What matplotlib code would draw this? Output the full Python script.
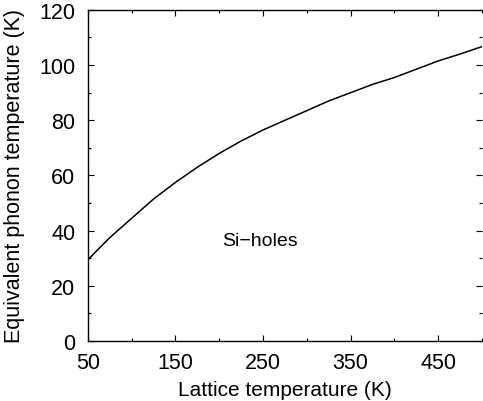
import matplotlib.pyplot as plt
from matplotlib.ticker import MultipleLocator

plt.rcParams["font.family"] = ["Liberation Sans", "DejaVu Sans"]

lattice_T = [50, 75, 100, 125, 150, 175, 200, 225, 250, 275, 300,
             325, 350, 375, 400, 425, 450, 475, 500]
phonon_T = [29.5, 37.5, 44.5, 51.5, 57.5, 63.0, 68.0, 72.5, 76.5, 80.0,
            83.5, 87.0, 90.0, 93.0, 95.5, 98.5, 101.5, 104.0, 106.7]

fig = plt.figure(figsize=(4.83, 4.02), dpi=100)
ax = fig.add_axes([0.182, 0.149, 0.816, 0.824])

ax.plot(lattice_T, phonon_T, color="black", lw=1.1)
ax.text(203, 36.5, "Si\u2212holes", fontsize=14, va="center")

ax.set_xlim(50, 500)
ax.set_ylim(0, 120)
ax.set_xticks([50, 150, 250, 350, 450])
ax.xaxis.set_minor_locator(MultipleLocator(50))
ax.yaxis.set_major_locator(MultipleLocator(20))
ax.yaxis.set_minor_locator(MultipleLocator(10))
ax.tick_params(which="both", direction="in", top=True, right=True,
               labelsize=15.5, width=0.8)
ax.tick_params(which="major", length=4)
ax.tick_params(axis="x", which="major", pad=8)
ax.tick_params(axis="y", which="major", pad=9)
ax.tick_params(which="minor", length=2.5)
ax.spines["right"].set_visible(False)
for s in ["left", "bottom", "top"]:
    ax.spines[s].set_linewidth(1.0)

ax.set_xlabel("Lattice temperature (K)", fontsize=15, labelpad=5)
ax.set_ylabel("Equivalent phonon temperature (K)", fontsize=15.5, labelpad=10)

fig.savefig("out.png", dpi=100)
